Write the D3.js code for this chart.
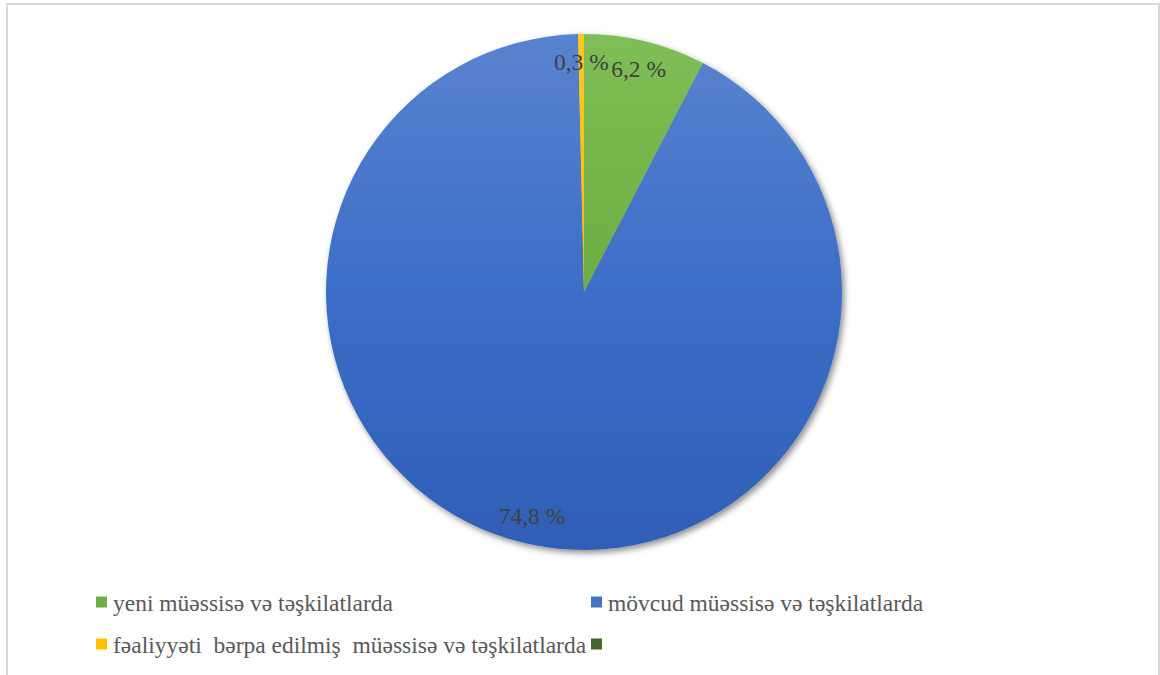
<!DOCTYPE html>
<html>
<head>
<meta charset="utf-8">
<style>
  html, body { margin: 0; padding: 0; background: #fff; }
  svg { display: block; }
  text { font-family: 'Liberation Serif', 'Times New Roman', Times, 'DejaVu Serif', serif; }
</style>
<script src="https://cdn.jsdelivr.net/npm/d3@7"></script>
</head>
<body>
<svg width="1160" height="675"></svg>
<script>
'use strict';

/* Chart data. */
var categories = [
  'yeni müəssisə və təşkilatlarda',
  'mövcud müəssisə və təşkilatlarda',
  'fəaliyyəti  bərpa edilmiş  müəssisə və təşkilatlarda',
  ''
];
var values = [6.2, 74.8, 0.3, 0];
var valueLabels = ['6,2 %', '74,8 %', '0,3 %', ''];
var colors = ['#70ad47', '#4472c4', '#ffc000', '#43682b'];

/* Select the element. */
var svg = d3.select('svg');

var center = {x: 584, y: 292};
var radius = 258;
var labelRadius = 230;

var data = categories.map(function (c, i) {
  return {category: c, value: values[i], label: valueLabels[i], color: colors[i]};
});

var defs = svg.append('defs');

/* Soft shadow under the pie. */
var shadow = defs.append('filter')
  .attr('id', 'shadow')
  .attr('x', '-10%').attr('y', '-10%')
  .attr('width', '120%').attr('height', '120%');
shadow.append('feDropShadow')
  .attr('dx', 2.5).attr('dy', 3)
  .attr('stdDeviation', 3)
  .attr('flood-color', '#000')
  .attr('flood-opacity', 0.45);

/* Shift lightness of a colour, keep it saturated. */
function shade(color, dl, ds) {
  var c = d3.hsl(color);
  c.l = Math.max(0, Math.min(1, c.l + dl));
  c.s = Math.max(0, Math.min(1, c.s + ds));
  return c.toString();
}

/* One vertical gradient per slice colour, in pie group coordinates. */
data.forEach(function (d, i) {
  var grad = defs.append('linearGradient')
    .attr('id', 'grad' + i)
    .attr('gradientUnits', 'userSpaceOnUse')
    .attr('x1', 0).attr('y1', -radius)
    .attr('x2', 0).attr('y2', radius);
  grad.append('stop').attr('offset', '0%').attr('stop-color', shade(d.color, 0.06, 0.03));
  grad.append('stop').attr('offset', '50%').attr('stop-color', shade(d.color, -0.01, 0.03));
  grad.append('stop').attr('offset', '100%').attr('stop-color', shade(d.color, -0.07, 0.07));
});

/* Frame of the chart area. */
svg.append('rect')
  .attr('x', 7)
  .attr('y', 4)
  .attr('width', 1152)
  .attr('height', 720)
  .attr('fill', 'none')
  .attr('stroke', '#d9d9d9')
  .attr('stroke-width', 2);

/* Pie layout. */
var pie = d3.pie().sort(null).value(function (d) { return d.value; });
var arc = d3.arc().innerRadius(0).outerRadius(radius);
var labelArc = d3.arc().innerRadius(labelRadius).outerRadius(labelRadius);

var arcs = pie(data);

var group = svg.append('g')
  .attr('transform', 'translate(' + center.x + ',' + center.y + ')');

group.append('g')
  .attr('filter', 'url(#shadow)')
  .selectAll('path')
  .data(arcs.filter(function (d) { return d.data.value > 0; }))
  .enter()
  .append('path')
  .attr('d', arc)
  .attr('fill', function (d) { return 'url(#grad' + d.index + ')'; })
  .attr('stroke', 'none');

/* Data labels. */
group.selectAll('.label')
  .data(arcs.filter(function (d) { return d.data.label; }))
  .enter()
  .append('text')
  .attr('class', 'label')
  .attr('transform', function (d) { return 'translate(' + labelArc.centroid(d) + ')'; })
  .attr('dy', '0.35em')
  .attr('text-anchor', 'middle')
  .attr('font-size', 23.5)
  .attr('fill', '#404040')
  .text(function (d) { return d.data.label; });

/* Legend. */
var legendX = [96, 591];
var legendY = [602, 644];

var legend = svg.selectAll('.legend')
  .data(data)
  .enter()
  .append('g')
  .attr('class', 'legend')
  .attr('transform', function (d, i) {
    return 'translate(' + legendX[i % 2] + ',' + legendY[Math.floor(i / 2)] + ')';
  });

legend.append('rect')
  .attr('x', 0)
  .attr('y', -5.5)
  .attr('width', 11)
  .attr('height', 11)
  .attr('fill', function (d) { return d.color; });

legend.append('text')
  .attr('x', 17)
  .attr('y', 9)
  .attr('font-size', 23.5)
  .attr('fill', '#595959')
  .style('white-space', 'pre')
  .text(function (d) { return d.category; });
</script>
</body>
</html>
